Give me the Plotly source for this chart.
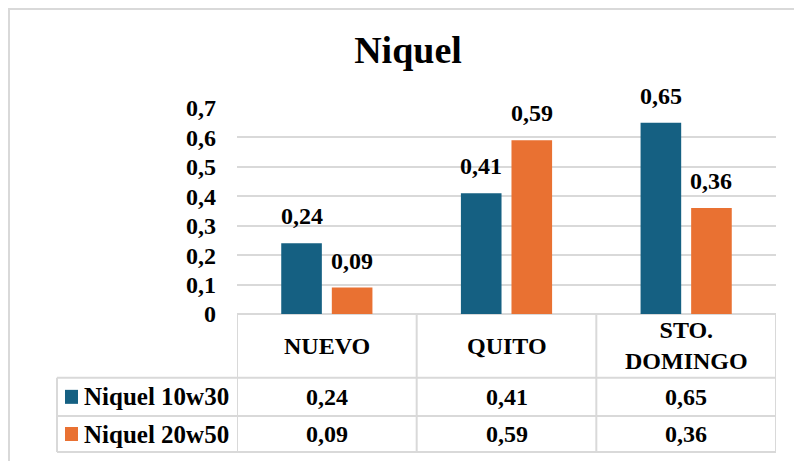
import plotly.graph_objects as go

# Chart data
categories = ["NUEVO", "QUITO", "STO. DOMINGO"]
category_labels = ["NUEVO", "QUITO", "STO.<br>DOMINGO"]
series_names = ["Niquel 10w30", "Niquel 20w50"]
niquel_10w30 = [0.24, 0.41, 0.65]
niquel_20w50 = [0.09, 0.59, 0.36]
y_ticks = [0, 0.1, 0.2, 0.3, 0.4, 0.5, 0.6, 0.7]
y_tick_labels = ["0", "0,1", "0,2", "0,3", "0,4", "0,5", "0,6", "0,7"]

colors = ["#156082", "#E97132"]
series_values = [niquel_10w30, niquel_20w50]

W, H = 794, 461
FONT = "Liberation Serif"
GRID = "#D9D9D9"
TXT = 24


def px(x):
    return x / W


def py(y):
    return 1 - y / H


def fmt(v):
    return f"{v:.2f}".replace(".", ",")


def bold(size):
    return dict(family=FONT, size=size, color="#000000", weight="bold")


# Plot area in pixels
PL, PR, PT, PB = 237, 776, 108, 314
# Data table rows
ROW1, ROW2, ROW3 = 377.7, 416, 452
TABLE_LEFT = 57
BARGAP, BARGROUPGAP = 0.437, 0.197

fig = go.Figure()
for name, vals, col in zip(series_names, series_values, colors):
    fig.add_trace(go.Bar(
        x=categories, y=vals, name=name,
        marker=dict(color=col, line=dict(width=0)),
        cliponaxis=False, showlegend=False,
    ))

shapes = []
# outer chart frame
shapes.append(dict(type="rect", xref="paper", yref="paper",
                   x0=px(9), x1=px(820), y0=py(480), y1=py(9),
                   line=dict(color=GRID, width=2), layer="below"))
# table horizontal rules
for yy in (ROW1, ROW2, ROW3):
    shapes.append(dict(type="line", xref="paper", yref="paper",
                       x0=px(TABLE_LEFT), x1=px(PR), y0=py(yy), y1=py(yy),
                       line=dict(color=GRID, width=2)))
# table vertical rules at category boundaries
for b in (-0.5, 0.5, 1.5, 2.5):
    shapes.append(dict(type="line", xref="x", yref="paper",
                       x0=b, x1=b, y0=py(PB), y1=py(ROW3),
                       line=dict(color=GRID, width=2)))
# legend column left edge
shapes.append(dict(type="line", xref="paper", yref="paper",
                   x0=px(TABLE_LEFT), x1=px(TABLE_LEFT), y0=py(ROW1), y1=py(ROW3),
                   line=dict(color=GRID, width=2)))

annotations = []
# value labels above each bar (offset to the centre of its slot in the group)
cat_px = (PR - PL) / len(categories)
slot_px = cat_px * (1 - BARGAP) / len(series_values)
for i, vals in enumerate(series_values):
    shift = (i - (len(series_values) - 1) / 2) * slot_px
    for cat, v in zip(categories, vals):
        annotations.append(dict(x=cat, xref="x", y=v, yref="y", text=fmt(v),
                                showarrow=False, xanchor="center", yanchor="bottom",
                                xshift=shift, yshift=12, font=bold(TXT)))
# category headers
for cat, lab in zip(categories, category_labels):
    annotations.append(dict(x=cat, xref="x", y=py((PB + ROW1) / 2), yref="paper",
                            text=lab, showarrow=False, xanchor="center", yanchor="middle",
                            font=bold(TXT)))
# value rows with legend keys
row_centers = [(ROW1 + ROW2) / 2, (ROW2 + ROW3) / 2]
for name, vals, col, rc in zip(series_names, series_values, colors, row_centers):
    shapes.append(dict(type="rect", xref="paper", yref="paper",
                       x0=px(65), x1=px(78), y0=py(rc + 7), y1=py(rc - 7),
                       fillcolor=col, line=dict(width=0)))
    annotations.append(dict(x=px(82), xref="paper", y=py(rc), yref="paper",
                            text=name, showarrow=False, xanchor="left", yanchor="middle",
                            font=bold(TXT + 1)))
    for cat, v in zip(categories, vals):
        annotations.append(dict(x=cat, xref="x", y=py(rc), yref="paper",
                                text=fmt(v), showarrow=False, xanchor="center", yanchor="middle",
                                font=bold(TXT)))

fig.update_layout(
    width=W, height=H,
    margin=dict(l=0, r=0, t=0, b=0, autoexpand=False),
    paper_bgcolor="white", plot_bgcolor="white",
    title=dict(text="Niquel", x=px(408), xanchor="center",
               y=py(50), yanchor="middle",
               font=bold(38)),
    barmode="group", bargap=BARGAP, bargroupgap=BARGROUPGAP,
    xaxis=dict(domain=[px(PL), px(PR)], range=[-0.5, 2.5],
               showticklabels=False, showgrid=False, zeroline=False,
               showline=False, ticks="", automargin=False),
    yaxis=dict(domain=[py(PB), py(PT)], range=[0, 0.7],
               tickvals=y_ticks, ticktext=y_tick_labels,
               tickfont=bold(TXT), automargin=False,
               showgrid=True, gridcolor=GRID, gridwidth=2,
               zeroline=True, zerolinecolor=GRID, zerolinewidth=2,
               showline=False, ticks="", ticklabelstandoff=20),
    font=dict(family=FONT),
    shapes=shapes, annotations=annotations,
)

fig.write_html("out.html")
